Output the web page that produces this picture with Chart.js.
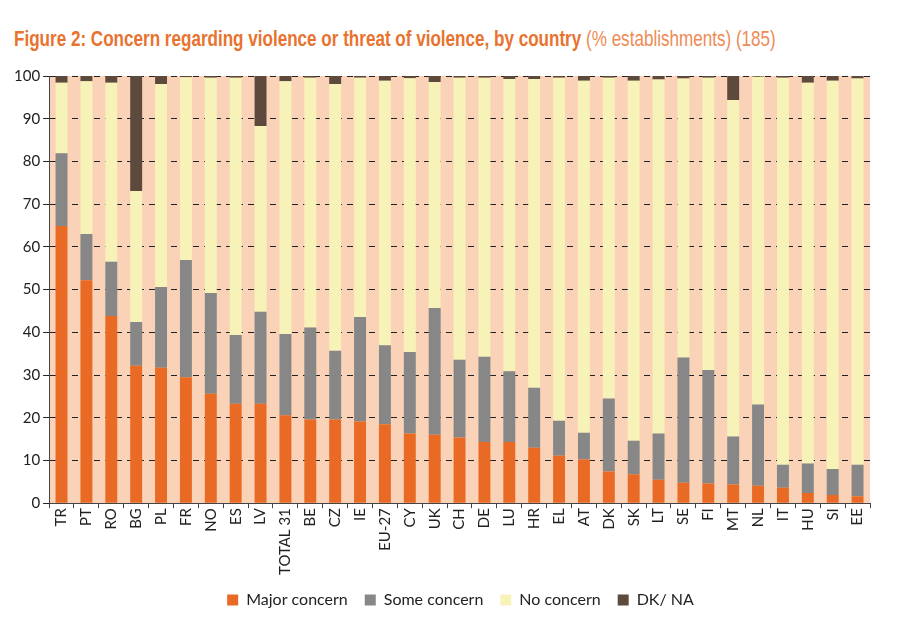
<!DOCTYPE html>
<html>
<head>
<meta charset="utf-8">
<script src="https://cdn.jsdelivr.net/npm/chart.js@4"></script>
<style>
    body { margin: 0; background: #fff; }
    #wrap { position: relative; width: 912px; height: 618px; }
    #title {
        position: absolute; left: 14px; top: 26px;
        font-family: 'Liberation Sans', Arial, sans-serif;
        font-size: 22px; color: #E8732F; white-space: nowrap;
        transform-origin: left top;
    }
    #title b { font-weight: bold; }
    #title span { font-weight: normal; color: #EE8B55; }
    canvas { position: absolute; left: 0; top: 0; }
</style>
</head>
<body>
<div id="wrap">
    <div id="title"><b>Figure 2: Concern regarding violence or threat of violence, by country</b> <span>(% establishments) (185)</span></div>
    <canvas id="chart" width="912" height="618"></canvas>
</div>
<script>
const countries = ['TR', 'PT', 'RO', 'BG', 'PL', 'FR', 'NO', 'ES', 'LV', 'TOTAL 31', 'BE', 'CZ', 'IE', 'EU-27', 'CY', 'UK', 'CH', 'DE', 'LU', 'HR', 'EL', 'AT', 'DK', 'SK', 'LT', 'SE', 'FI', 'MT', 'NL', 'IT', 'HU', 'SI', 'EE'];

const majorConcern = [64.9, 52.2, 43.8, 32.2, 31.7, 29.5, 25.6, 23.3, 23.3, 20.6, 19.6, 19.6, 19.1, 18.5, 16.3, 16.0, 15.4, 14.3, 14.3, 13.0, 11.1, 10.2, 7.4, 6.8, 5.5, 4.8, 4.6, 4.4, 4.1, 3.6, 2.4, 1.9, 1.6];
const someConcern = [17.0, 10.8, 12.7, 10.2, 18.9, 27.4, 23.6, 16.1, 21.5, 19.0, 21.5, 16.1, 24.5, 18.5, 19.1, 29.7, 18.2, 20.0, 16.6, 14.0, 8.2, 6.3, 17.1, 7.8, 10.8, 29.3, 26.6, 11.2, 19.0, 5.4, 6.9, 6.1, 7.4];
const noConcern = [16.5, 35.8, 41.9, 30.7, 47.5, 42.8, 50.4, 60.2, 43.5, 59.2, 58.5, 62.4, 56.0, 61.9, 64.1, 52.9, 66.0, 65.3, 68.4, 72.3, 80.3, 82.4, 75.1, 84.3, 82.9, 65.3, 68.4, 78.8, 76.7, 90.6, 89.1, 90.9, 90.4];
const dkNa = [1.6, 1.2, 1.6, 26.9, 1.9, 0.3, 0.4, 0.4, 11.7, 1.2, 0.4, 1.9, 0.4, 1.1, 0.5, 1.4, 0.4, 0.4, 0.7, 0.7, 0.4, 1.1, 0.4, 1.1, 0.8, 0.6, 0.4, 5.6, 0.2, 0.4, 1.6, 1.1, 0.6];

const yTicks = [0, 10, 20, 30, 40, 50, 60, 70, 80, 90, 100];

// squeeze the title to the width of the condensed original
const title = document.getElementById('title');
title.style.transform = 'scaleX(' + (762 / title.offsetWidth) + ')';

// peach fill behind the bars
const plotBackground = {
    id: 'plotBackground',
    beforeDraw(chart) {
        const { ctx, chartArea } = chart;
        ctx.save();
        ctx.fillStyle = '#FAD2B8';
        ctx.fillRect(chartArea.left, chartArea.top, chartArea.right - chartArea.left, chartArea.bottom - chartArea.top);
        ctx.restore();
    }
};

// legend sits a little right of centre in the original
const legendShift = {
    id: 'legendShift',
    afterLayout(chart) {
        chart.legend.left += 20;
        chart.legend.right += 20;
    }
};

const tickFont = { family: 'Lato, sans-serif', size: 15 };

new Chart(document.getElementById('chart'), {
    type: 'bar',
    data: {
        labels: countries,
        datasets: [
            { label: 'Major concern', data: majorConcern, backgroundColor: '#E86A25' },
            { label: 'Some concern', data: someConcern, backgroundColor: '#878787' },
            { label: 'No concern', data: noConcern, backgroundColor: '#F6F2B8' },
            { label: 'DK/ NA', data: dkNa, backgroundColor: '#5E4A3D' }
        ]
    },
    options: {
        responsive: false,
        animation: false,
        layout: { padding: { top: 76, right: 42, left: 11, bottom: 0 } },
        datasets: { bar: { barPercentage: 0.48, categoryPercentage: 1 } },
        plugins: {
            legend: {
                position: 'bottom',
                labels: {
                    boxWidth: 11, boxHeight: 11, padding: 17,
                    color: '#222', font: { family: 'Lato, sans-serif', size: 16 }
                }
            },
            tooltip: { enabled: false }
        },
        scales: {
            x: {
                stacked: true,
                grid: { offset: true, drawOnChartArea: false, drawTicks: true, tickLength: 5, color: '#444' },
                border: { color: '#444', width: 1 },
                ticks: { maxRotation: 90, minRotation: 90, autoSkip: false, color: '#222', font: tickFont, padding: 0 }
            },
            y: {
                stacked: true,
                min: 0, max: 100,
                afterBuildTicks(axis) { axis.ticks = yTicks.map(v => ({ value: v })); },
                grid: { color: '#222', lineWidth: 1, tickLength: 6, drawTicks: true },
                border: { color: '#444', width: 1, dash: [6, 5] },
                ticks: { color: '#222', font: tickFont, padding: 3 }
            }
        }
    },
    plugins: [plotBackground, legendShift]
});
</script>
</body>
</html>
